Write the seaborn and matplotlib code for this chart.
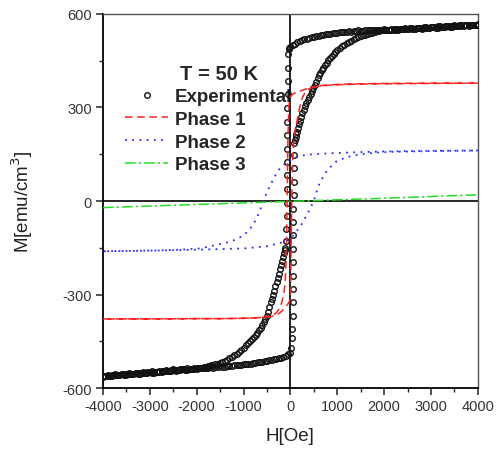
import matplotlib
matplotlib.use("Agg")
import matplotlib.pyplot as plt
from matplotlib.ticker import MultipleLocator
import seaborn as sns

# ---------------- experimental loop, descending branch (+4000 -> -4000)
desc_top_H = [4000, 3950, 3900, 3850, 3800, 3750, 3700, 3650, 3600, 3550,
              3500, 3450, 3400, 3350, 3300, 3250, 3200, 3150, 3100, 3050,
              3000, 2950, 2900, 2850, 2800, 2750, 2700, 2650, 2600, 2550,
              2500, 2450, 2400, 2350, 2300, 2250, 2200, 2150, 2100, 2050,
              2000, 1950, 1900, 1850, 1800, 1750, 1700, 1650, 1600, 1550,
              1500, 1450, 1400, 1350, 1300, 1250, 1200, 1150, 1100, 1050,
              1000, 950, 900, 850, 800, 750, 700, 650, 600, 550,
              500, 450, 400, 350, 300, 250, 200, 150, 100, 50,
              0, -25, -40]
desc_top_M = [565, 566, 563, 564, 562, 563, 564, 561, 560, 562,
              561, 559, 559, 560, 557, 558, 558, 556, 556, 558,
              557, 555, 555, 556, 553, 554, 555, 552, 552, 554,
              553, 551, 551, 552, 549, 550, 551, 548, 548, 550,
              551, 549, 549, 550, 550, 548, 547, 549, 548, 546,
              545, 547, 546, 544, 543, 544, 542, 543, 543, 541,
              540, 539, 538, 537, 535, 535, 534, 532, 530, 529,
              527, 525, 523, 521, 519, 517, 514, 510, 505, 499,
              494, 490, 486]
desc_jump_H = [-55, -58, -60, -62, -63, -65, -66, -68, -70, -72, -74, -77, -81, -87, -95]
desc_jump_M = [470, 428, 385, 342, 298, 255, 212, 168, 125, 82, 38, -5, -48, -90, -128]
desc_knee_H = [-110, -125, -140, -160, -180, -200, -220, -245, -270, -295,
               -320, -345, -370, -395, -420, -450, -480, -510, -540, -570,
               -600, -635, -670, -705, -740, -780, -820, -860, -900, -950,
               -1000, -1050, -1100, -1150, -1200, -1250, -1300, -1350, -1400, -1450,
               -1500, -1550, -1600, -1650, -1700, -1750, -1800, -1850, -1900, -1950]
desc_knee_M = [-150, -157, -165, -178, -192, -205, -218, -233, -247, -260,
               -273, -287, -300, -313, -325, -340, -355, -368, -379, -389,
               -398, -407, -415, -422, -429, -436, -443, -450, -456, -463,
               -470, -477, -484, -490, -495, -500, -504, -509, -513, -516,
               -519, -521, -523, -526, -527, -529, -531, -532, -534, -535]
desc_low_H = [-2000, -2050, -2100, -2150, -2200, -2250, -2300, -2350, -2400, -2450,
              -2500, -2550, -2600, -2650, -2700, -2750, -2800, -2850, -2900, -2950,
              -3000, -3050, -3100, -3150, -3200, -3250, -3300, -3350, -3400, -3450,
              -3500, -3550, -3600, -3650, -3700, -3750, -3800, -3850, -3900, -3950,
              -4000]
desc_low_M = [-536, -535, -537, -538, -536, -539, -540, -538, -541, -542,
              -540, -543, -544, -542, -545, -546, -544, -547, -548, -546,
              -547, -549, -550, -548, -551, -552, -550, -553, -554, -552,
              -555, -556, -554, -557, -558, -556, -559, -560, -558, -561,
              -562]

# ---------------- experimental loop, ascending branch (-4000 -> +4000)
asc_low_H = [-4000, -3950, -3900, -3850, -3800, -3750, -3700, -3650, -3600, -3550,
             -3500, -3450, -3400, -3350, -3300, -3250, -3200, -3150, -3100, -3050,
             -3000, -2950, -2900, -2850, -2800, -2750, -2700, -2650, -2600, -2550,
             -2500, -2450, -2400, -2350, -2300, -2250, -2200, -2150, -2100, -2050,
             -2000, -1950, -1900, -1850, -1800, -1750, -1700, -1650, -1600, -1550,
             -1500, -1450, -1400, -1350, -1300, -1250, -1200, -1150, -1100, -1050,
             -1000, -950, -900, -850, -800, -750, -700, -650, -600, -550,
             -500, -450, -400, -350, -300, -250, -200, -150, -100, -50,
             0, 15, 30, 42]
asc_low_M = [-563, -561, -560, -562, -561, -559, -558, -559, -556, -558,
             -557, -555, -554, -556, -552, -553, -553, -551, -550, -551,
             -549, -550, -550, -548, -547, -548, -545, -546, -546, -544,
             -543, -544, -542, -541, -540, -542, -541, -539, -538, -539,
             -537, -536, -535, -536, -536, -534, -533, -534, -532, -531,
             -530, -531, -531, -529, -528, -528, -527, -526, -525, -525,
             -524, -522, -521, -521, -520, -518, -517, -516, -515, -514,
             -513, -511, -509, -508, -506, -504, -502, -499, -496, -492,
             -486, -470, -440, -410]
asc_jump_H = [50, 52, 54, 55, 56, 58, 60, 62, 64, 66, 68, 71, 75, 82]
asc_jump_M = [-368, -325, -282, -239, -196, -153, -110, -67, -24, 19, 62, 105, 148, 185]
asc_knee_H = [95, 110, 125, 140, 160, 180, 200, 225, 250, 280,
              310, 340, 370, 400, 430, 460, 490, 520, 550, 580,
              610, 640, 670, 700, 735, 770, 805, 840, 880, 920,
              960, 1000, 1050, 1100, 1150, 1200, 1250, 1300, 1350, 1400,
              1450, 1500, 1550, 1600, 1650, 1700, 1750, 1800, 1850, 1900,
              1950]
asc_knee_M = [195, 205, 214, 222, 234, 246, 258, 270, 281, 293,
              304, 314, 323, 332, 342, 352, 362, 373, 383, 393,
              403, 411, 419, 427, 435, 443, 451, 458, 465, 472,
              478, 484, 490, 496, 501, 506, 510, 514, 518, 522,
              525, 528, 531, 534, 536, 538, 540, 542, 544, 545,
              547]
asc_top_H = [2000, 2050, 2100, 2150, 2200, 2250, 2300, 2350, 2400, 2450,
             2500, 2550, 2600, 2650, 2700, 2750, 2800, 2850, 2900, 2950,
             3000, 3050, 3100, 3150, 3200, 3250, 3300, 3350, 3400, 3450,
             3500, 3550, 3600, 3650, 3700, 3750, 3800, 3850, 3900, 3950,
             4000]
asc_top_M = [549, 548, 550, 551, 549, 552, 552, 551, 553, 554,
             552, 554, 555, 553, 556, 556, 555, 557, 558, 556,
             558, 559, 557, 560, 560, 559, 561, 562, 560, 562,
             563, 561, 563, 564, 562, 564, 565, 564, 566, 566,
             567]

# ---------------- Phase 1 loop
p1_H = [4000, 3000, 2000, 1500, 1000, 800, 600, 450, 350, 250,
        150, 80, 30, 0, -20, -35, -45, -52, -58, -63,
        -68, -73, -79, -86, -95, -108, -125, -150, -190, -240,
        -300, -380, -480, -600, -800, -1000, -1500, -2000, -3000, -4000,
        -3000, -2000, -1500, -1000, -600, -400, -300, -220, -150,
        -80, -20, 0, 5, 10, 15, 20, 26, 33, 42,
        55, 75, 100, 140, 190, 250, 320, 400, 500, 700,
        1000, 1500, 2000, 3000, 4000]
p1_M = [378, 377, 376, 375, 373, 371, 368, 364, 360, 355,
        350, 345, 340, 335, 320, 290, 250, 200, 140, 80,
        20, -40, -100, -160, -210, -250, -280, -305, -328, -346,
        -358, -366, -370, -373, -375, -376, -377, -377, -378, -378,
        -378, -377, -377, -376, -373, -370, -366, -358, -348,
        -336, -322, -310, -270, -210, -150, -90, -30, 30, 90,
        150, 195, 228, 255, 295, 330, 350, 360, 366, 371,
        374, 376, 377, 378, 378]

# ---------------- Phase 2 loop
p2_H = [4000, 3000, 2000, 1500, 1000, 700, 400, 250, 140, 0,
        -100, -224, -300, -370, -437, -500, -550, -590, -650, -720,
        -800, -864, -1000, -1140, -1300, -1500, -1930, -2500, -3000, -4000,
        -3000, -2000, -1000, -500, -160, 0, 140, 250, 330,
        415, 470, 525, 590, 650, 720, 780, 860, 990, 1200,
        1500, 1800, 2200, 3000, 4000]
p2_M = [162, 161, 159, 157, 154, 152, 149, 146, 141, 131,
        122, 105, 88, 68, 48, 28, 10, -5, -30, -55,
        -76, -90, -110, -122, -131, -138, -152, -157, -159, -161,
        -159, -156, -152, -145, -132, -122, -95, -72, -50,
        -26, -8, 12, 45, 65, 83, 97, 110, 128, 141,
        150, 155, 158, 160, 162]

# ---------------- Phase 3 (nearly linear)
p3_H = [-4000, -2000, 0, 2000, 4000]
p3_M = [-21, -11, -1, 9, 20]

x_ticks = [-4000, -3000, -2000, -1000, 0, 1000, 2000, 3000, 4000]
y_ticks = [-600, -300, 0, 300, 600]

exp_H = (desc_top_H + desc_jump_H + desc_knee_H + desc_low_H
         + asc_low_H + asc_jump_H + asc_knee_H + asc_top_H)
exp_M = (desc_top_M + desc_jump_M + desc_knee_M + desc_low_M
         + asc_low_M + asc_jump_M + asc_knee_M + asc_top_M)

sns.set_style("ticks")
plt.rcParams["font.family"] = ["Liberation Sans", "DejaVu Sans"]
plt.rcParams["axes.unicode_minus"] = False

fig = plt.figure(figsize=(5.02, 4.52), dpi=100)
ax = fig.add_axes([0.205, 0.139, 0.747, 0.828])

ax.axhline(0, color="black", lw=1.2, zorder=1.5)
ax.axvline(0, color="black", lw=1.2, zorder=1.5)

sns.lineplot(x=exp_H, y=exp_M, sort=False, estimator=None, ax=ax,
             linestyle="none", marker="o", markersize=4.0,
             markerfacecolor="none", markeredgecolor="#111111", markeredgewidth=1.0,
             label="Experimental", zorder=3)
sns.lineplot(x=p1_H, y=p1_M, sort=False, estimator=None, ax=ax, color="#ff2020",
             linestyle=(0, (5, 3)), lw=1.1, label="Phase 1", zorder=4)
sns.lineplot(x=p2_H, y=p2_M, sort=False, estimator=None, ax=ax, color="#2a2aff",
             linestyle=(0, (1, 3)), lw=1.3, label="Phase 2", zorder=4)
sns.lineplot(x=p3_H, y=p3_M, sort=False, estimator=None, ax=ax, color="#22dd22",
             linestyle=(0, (7, 2, 1.5, 2)), lw=1.1, label="Phase 3", zorder=4)

ax.set_xlim(-4000, 4000)
ax.set_ylim(-600, 600)
ax.set_xticks(x_ticks)
ax.set_yticks(y_ticks)
ax.xaxis.set_minor_locator(MultipleLocator(500))
ax.yaxis.set_minor_locator(MultipleLocator(150))
ax.tick_params(which="major", direction="out", length=5, width=1.1, labelsize=10.5,
               labelcolor="#333333", pad=3)
ax.tick_params(which="minor", direction="out", length=3, width=1.0)

for side in ["left", "bottom"]:
    ax.spines[side].set_color("black")
    ax.spines[side].set_linewidth(1.3)
for side in ["top", "right"]:
    ax.spines[side].set_visible(True)
    ax.spines[side].set_color("#555555")
    ax.spines[side].set_linewidth(1.0)

ax.set_xlabel("H[Oe]", fontsize=13.5, color="#222222")
ax.set_ylabel("M[emu/cm$^3$]", fontsize=13.5, color="#222222")
ax.xaxis.set_label_coords(0.5, -0.105)
ax.yaxis.set_label_coords(-0.18, 0.5)

leg = ax.legend(loc="upper left", bbox_to_anchor=(125 / 502, 1 - 89 / 452),
                bbox_transform=fig.transFigure, frameon=False, borderpad=0,
                borderaxespad=0, handlelength=2.3, handletextpad=0.37,
                labelspacing=0.3, numpoints=1,
                prop={"weight": "bold", "size": 13.5})
leg.set_zorder(1)
ax.text(180 / 502, 1 - 74 / 452, "T = 50 K", transform=fig.transFigure,
        fontsize=14.5, fontweight="bold", va="center", ha="left")

fig.savefig("out.png", dpi=100)
